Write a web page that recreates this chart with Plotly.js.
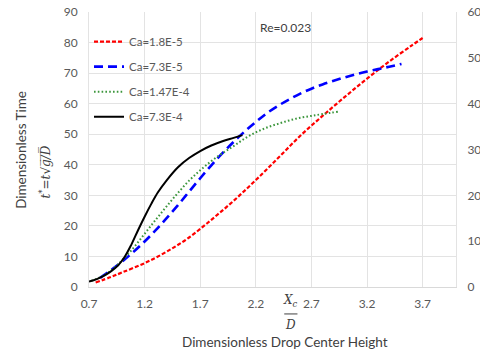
<!DOCTYPE html>
<html>
<head>
<meta charset="utf-8">
<script src="https://cdn.plot.ly/plotly-3.0.1.min.js"></script>
<style>html,body{margin:0;padding:0;background:#fff;}#chart{width:480px;height:351px;}</style>
</head>
<body>
<div id="chart"></div>
<script>
// Series names
const seriesNames = ["Ca=1.8E-5", "Ca=7.3E-5", "Ca=1.47E-4", "Ca=7.3E-4"];

// Ca=1.8E-5 (red)
const redX = [0.76, 0.9, 1.0, 1.2, 1.4, 1.6, 1.8, 2.0, 2.2, 2.4, 2.6, 2.8, 3.0, 3.2, 3.4, 3.6, 3.7];
const redY = [1.5, 3.3, 4.8, 7.8, 11.6, 16.2, 22.0, 28.2, 35.0, 42.2, 49.5, 56.0, 62.2, 68.2, 73.8, 79.0, 81.5];

// Ca=7.3E-5 (blue)
const blueX = [0.80, 0.90, 1.00, 1.10, 1.20, 1.30, 1.40, 1.50, 1.60, 1.70, 1.80, 1.90, 2.00, 2.10, 2.20, 2.30, 2.40, 2.50, 2.60, 2.70, 2.80, 2.90, 3.00, 3.10, 3.20, 3.30, 3.40, 3.51];
const blueY = [3.0, 5.6, 8.4, 11.5, 14.9, 18.6, 22.6, 26.8, 31.2, 35.6, 39.8, 43.8, 47.5, 50.9, 54.0, 56.9, 59.3, 61.4, 63.3, 64.9, 66.3, 67.5, 68.6, 69.6, 70.5, 71.3, 72.1, 73.0];

// Ca=1.47E-4 (green)
const greenX = [0.72, 0.84, 0.93, 1.00, 1.10, 1.20, 1.30, 1.40, 1.50, 1.60, 1.70, 1.80, 1.90, 2.00, 2.10, 2.20, 2.30, 2.40, 2.50, 2.60, 2.70, 2.80, 2.95];
const greenY = [2.0, 3.9, 6.4, 8.8, 12.8, 17.4, 22.0, 26.5, 30.8, 34.8, 38.2, 41.2, 43.8, 46.1, 48.6, 50.6, 52.2, 53.4, 54.5, 55.4, 56.0, 56.6, 57.4];

// Ca=7.3E-4 (black)
const blackX = [0.70, 0.77, 0.84, 0.90, 0.96, 1.02, 1.08, 1.14, 1.20, 1.26, 1.32, 1.40, 1.50, 1.60, 1.70, 1.80, 1.90, 2.00, 2.08];
const blackY = [1.8, 2.6, 3.8, 5.2, 7.0, 9.8, 13.8, 18.5, 23.0, 27.2, 31.0, 35.0, 39.2, 42.2, 44.5, 46.3, 47.7, 48.8, 49.7];

// Axis ticks
const xTicks = [0.7, 1.2, 1.7, 2.2, 2.7, 3.2, 3.7];
const xTickLabels = ["0.7", "1.2", "1.7", "2.2", "2.7", "3.2", "3.7"];
const yTicks = [0, 10, 20, 30, 40, 50, 60, 70, 80, 90];
const y2Ticks = [0, 10, 20, 30, 40, 50, 60];

const FONT = "Lato, 'Open Sans', 'Liberation Sans', sans-serif";

function tr(x, y, name, color, dash, width, grp) {
  return {
    x: x, y: y, name: name, type: "scatter", mode: "lines",
    line: {color: color, dash: dash, width: width, shape: "spline", smoothing: 1},
    legendgroup: grp
  };
}

const data = [
  tr(redX, redY, seriesNames[0], "#ff0000", "4px,2px", 2.2, "a"),
  tr(blueX, blueY, seriesNames[1], "#0000ff", "9px,5px", 2.6, "b"),
  tr(greenX, greenY, seriesNames[2], "#3c963c", "1.6px,2.2px", 2.0, "c"),
  tr(blackX, blackY, seriesNames[3], "#000000", "solid", 2.0, "d"),
  // empty trace so the secondary (right) axis is drawn
  {x: [null], y: [null], yaxis: "y2", type: "scatter", mode: "lines", showlegend: false, hoverinfo: "skip"}
];

const layout = {
  width: 480, height: 351,
  margin: {l: 89, r: 24, t: 12, b: 64},
  paper_bgcolor: "#ffffff", plot_bgcolor: "#ffffff",
  font: {family: FONT, size: 12, color: "#595959"},
  showlegend: true,
  legend: {
    x: 0.0, y: 0.945, xanchor: "left", yanchor: "top",
    bgcolor: "rgba(0,0,0,0)", borderwidth: 0,
    font: {family: FONT, size: 11.5, color: "#595959"},
    traceorder: "grouped", tracegroupgap: 6, itemwidth: 30
  },
  xaxis: {
    range: [0.7, 4.0], tickvals: xTicks, ticktext: xTickLabels,
    showgrid: true, gridcolor: "#e3e3e3", gridwidth: 1,
    zeroline: false, showline: true, linecolor: "#d9d9d9", linewidth: 1, mirror: false,
    ticks: "", ticklabelstandoff: 6,
    tickfont: {family: FONT, size: 12, color: "#595959"}
  },
  yaxis: {
    range: [0, 90], tickvals: yTicks,
    showgrid: true, gridcolor: "#e3e3e3", gridwidth: 1,
    zeroline: false, showline: true, linecolor: "#e3e3e3", linewidth: 1,
    ticks: "", ticklabelstandoff: 8,
    tickfont: {family: FONT, size: 12, color: "#595959"}
  },
  yaxis2: {
    range: [0, 60], tickvals: y2Ticks, overlaying: "y", side: "right",
    showgrid: false, zeroline: false, showline: true, linecolor: "#e3e3e3",
    ticks: "", ticklabelstandoff: 8,
    tickfont: {family: FONT, size: 12, color: "#595959"}
  },
  annotations: [
    {xref: "paper", yref: "paper", x: -0.187, y: 0.5, xanchor: "center", yanchor: "middle",
     text: "Dimensionless Time", textangle: -90, showarrow: false,
     font: {family: FONT, size: 13.5, color: "#404040"}},
    {xref: "paper", yref: "paper", x: -0.12, y: 0.42, xanchor: "center", yanchor: "middle",
     text: "<i>t</i><sup>*</sup>=<i>t</i>√<i>g̅/̅D̅</i>", textangle: -90, showarrow: false,
     font: {family: "'DejaVu Serif', serif", size: 12, color: "#404040"}},
    {xref: "paper", yref: "paper", x: 0.535, y: -0.2, xanchor: "center", yanchor: "middle",
     text: "Dimensionless Drop Center Height", showarrow: false,
     font: {family: FONT, size: 13.5, color: "#404040"}},
    {xref: "paper", yref: "paper", x: 0.55, y: -0.05, xanchor: "center", yanchor: "middle",
     text: "<i>X<sub>c</sub></i>", showarrow: false,
     font: {family: "'DejaVu Serif', serif", size: 12, color: "#404040"}},
    {xref: "paper", yref: "paper", x: 0.55, y: -0.138, xanchor: "center", yanchor: "middle",
     text: "<i>D</i>", showarrow: false,
     font: {family: "'DejaVu Serif', serif", size: 12, color: "#404040"}},
    {xref: "paper", yref: "paper", x: 0.535, y: 0.945, xanchor: "center", yanchor: "middle",
     text: "Re=0.023", showarrow: false,
     font: {family: FONT, size: 12, color: "#404040"}}
  ],
  shapes: [
    {type: "line", xref: "paper", yref: "paper", x0: 0.532, x1: 0.568, y0: -0.098, y1: -0.098,
     line: {color: "#404040", width: 1}}
  ]
};

Plotly.newPlot("chart", data, layout, {displayModeBar: false, staticPlot: true});
</script>
</body>
</html>
